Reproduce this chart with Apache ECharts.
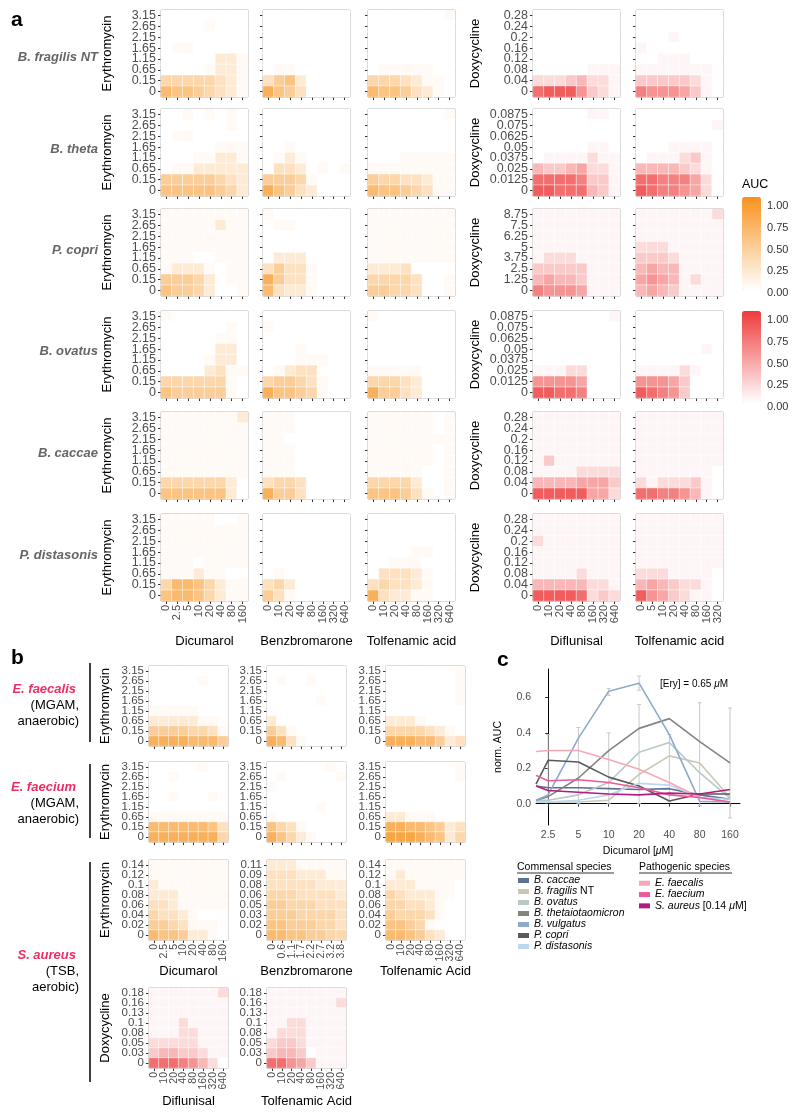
<!DOCTYPE html>
<html>
<head>
<meta charset="utf-8">
<script src="https://cdn.jsdelivr.net/npm/echarts@6/dist/echarts.min.js"></script>
<style>
  html, body { margin: 0; padding: 0; background: #fff; }
  #chart { width: 800px; height: 1118px; }
</style>
</head>
<body>
<div id="chart"></div>
<script>
var FONT = "'Liberation Sans', Arial, Helvetica, sans-serif";
var ORANGE = '#F7931E';
var RED = '#EE3B3B';
var PINK = '#EC2F63';

// ---- tick labels ----
var eryA = ['0', '0.15', '0.65', '1.15', '1.65', '2.15', '2.65', '3.15'];
var doxyWide = ['0', '0.04', '0.08', '0.12', '0.16', '0.2', '0.24', '0.28'];
var doxyLow = ['0', '0.0125', '0.025', '0.0375', '0.05', '0.0625', '0.075', '0.0875'];
var doxyHigh = ['0', '1.25', '2.5', '3.75', '5', '6.25', '7.5', '8.75'];
var dicumarolX = ['0', '2.5', '5', '10', '20', '40', '80', '160'];
var dose640 = ['0', '10', '20', '40', '80', '160', '320', '640'];
var dose320 = ['0', '5', '10', '20', '40', '80', '160', '320'];
var benzS = ['0', '0.6', '1.1', '1.7', '2.2', '2.7', '3.2', '3.8'];
var eryS1 = ['0', '0.02', '0.04', '0.06', '0.08', '0.1', '0.12', '0.14'];
var eryS2 = ['0', '0.02', '0.03', '0.05', '0.06', '0.08', '0.09', '0.11'];
var doxyS = ['0', '0.03', '0.05', '0.08', '0.1', '0.13', '0.16', '0.18'];
var colorbarTicks = [0, 0.25, 0.5, 0.75, 1];

// ---- heatmaps: one string per row, top row (highest antibiotic) first,
// each digit = AUC x 10, with 1 standing for a faint cell (~0.05) ----
// panel a, per species: Dicumarol, Benzbromarone, Tolfenamic acid (Ery) | Diflunisal, Tolfenamic acid (Doxy)
var aFragilis = [
  ['00000000', '00001000', '00000000', '01100000', '00000221', '00001221', '44444321', '76654321'],
  ['00000000', '00000000', '00000000', '00000000', '00000000', '01100000', '35620000', '86530000'],
  ['00000001', '00000000', '00000000', '00000000', '00000000', '01111100', '44432110', '76653210'],
  ['00000000', '00000000', '00000000', '00000000', '00000000', '00000111', '22234221', '89996321'],
  ['00000000', '00000000', '00010000', '10000000', '00111000', '11111110', '33333210', '76665310']
];
var aTheta = [
  ['00101010', '00000010', '01100000', '00000111', '00011221', '01122222', '55555432', '66666542'],
  ['00000000', '00000000', '00000000', '00100000', '01210000', '03320101', '55541000', '86532000'],
  ['00000001', '00000000', '00000000', '00000000', '00011111', '11111111', '54433211', '76654311'],
  ['00000110', '00000000', '00000000', '00000110', '01111211', '43345221', '88887331', '99888431'],
  ['00000000', '00000001', '00000000', '00011110', '01112310', '44443210', '88777520', '98776520']
];
var aCopri = [
  ['11111111', '11111211', '11111111', '11111111', '11100111', '12221011', '55542011', '65542001'],
  ['10000000', '01100000', '00000000', '00000000', '02220000', '35331000', '85331000', '73221000'],
  ['11111111', '11111111', '11111111', '11111111', '11111111', '22230000', '44443001', '55443001'],
  ['11111111', '11111111', '11111111', '11111111', '12221111', '33333111', '45443111', '76665111'],
  ['11111112', '11111111', '11111111', '22211111', '33321111', '45441111', '56541211', '45431111']
];
var aOvatus = [
  ['10000000', '00000010', '00000110', '00000220', '00001220', '00002311', '44444410', '65555510'],
  ['00000000', '10000000', '00000000', '00010000', '00011100', '01233000', '45543100', '86654100'],
  ['10000000', '00000000', '00000000', '00000000', '00000000', '11111000', '44432000', '85532000'],
  ['00000001', '00000000', '00000000', '00000000', '00000000', '11122000', '66665000', '99887000'],
  ['00000000', '00000000', '00000000', '00000010', '00000000', '11112100', '66653000', '98763000']
];
var aCaccae = [
  ['11111112', '11111111', '11111111', '11111111', '11111111', '11111111', '44444420', '66666620'],
  ['11100000', '11100000', '11000000', '11100000', '11100000', '11100000', '34430000', '85530000'],
  ['11111101', '11111101', '11111111', '11111101', '11111101', '11111001', '44442001', '66653101'],
  ['11111111', '11111111', '11111111', '11111111', '13111111', '11112222', '44445553', '99999552'],
  ['11111111', '11111111', '11111111', '11111111', '11111111', '11111110', '21222310', '88776410']
];
var aDistasonis = [
  ['11111001', '11111111', '11111111', '11111111', '11101111', '11121100', '47764211', '67764211'],
  ['00000000', '00000000', '00000000', '00000000', '00000000', '01000000', '34200000', '53100000'],
  ['00000000', '00000000', '00000000', '00001100', '00111000', '03332100', '34332100', '83221100'],
  ['11111111', '11111111', '21111111', '11111111', '11111111', '11112111', '44444221', '99998232'],
  ['11111111', '11111111', '11111111', '11111111', '11111111', '22211110', '45432210', '96532110']
];
// panel b
var bFaecalis = [
  ['00000000', '00000100', '00000000', '00000000', '11111000', '22222110', '55554431', '88887775'],
  ['00000000', '01001000', '00000000', '00000100', '00000000', '20000000', '53100000', '87310000'],
  ['00000001', '00000001', '00000001', '00000001', '00000000', '22210000', '44443210', '88877523']
];
var bFaecium = [
  ['00000100', '00100000', '00000000', '00100010', '00000000', '11111111', '77777763', '88888884'],
  ['00000010', '01000001', '10000000', '00000000', '00000100', '10000000', '64310000', '86421000'],
  ['00000001', '00000001', '00000000', '00000000', '00000000', '22111000', '88776523', '99987624']
];
var bAureusEry = [
  ['11111111', '11111111', '21111111', '22211111', '33211111', '43321000', '55431110', '76652210'],
  ['22211111', '33322211', '33333222', '44433332', '55444333', '55544443', '66555443', '77665544'],
  ['11111111', '12111111', '22211110', '43222110', '44332100', '54443100', '66541000', '77653200']
];
var bAureusDoxy = [
  ['11111112', '11111111', '11111111', '11121111', '11122111', '22222111', '34433211', '88876420'],
  ['11111111', '11111112', '11111111', '11221111', '12221111', '23321111', '34430111', '88653111']
];

// ---- panel c: first value is where the line meets the left axis edge ----
var cDoses = ['2.5', '5', '10', '20', '40', '80', '160'];
var cTicks = [0, 0.2, 0.4, 0.6];
var cEdgeX = -0.4;
var cCaccae = [0.10, 0.09, 0.09, 0.085, 0.08, 0.085, 0.05, 0.025];
var cFragilis = [0.01, 0.01, 0.01, 0.02, 0.165, 0.27, 0.23, 0.035];
var cOvatus = [0.02, 0.02, 0.05, 0.12, 0.29, 0.345, 0.175, 0.03];
var cTheta = [0.02, 0.04, 0.145, 0.30, 0.425, 0.48, 0.35, 0.23];
var cVulgatus = [0.02, 0.05, 0.37, 0.635, 0.68, 0.39, 0.013, 0.01];
var cCopri = [0.11, 0.245, 0.235, 0.15, 0.10, 0.015, 0.055, 0.055];
var cDistasonis = [0.01, 0.01, 0.02, 0.05, 0.115, 0.105, 0.035, 0.025];
var cFaecalis = [0.295, 0.30, 0.30, 0.25, 0.195, 0.12, 0.035, 0.01];
var cFaecium = [0.16, 0.13, 0.135, 0.12, 0.09, 0.05, 0.035, 0.01];
var cAureus = [0.10, 0.075, 0.065, 0.055, 0.05, 0.06, 0.055, 0.08];
// error bars: [dose index, low, high]
var cErrBars = [
  [0, 0.01, 0.39], [1, 0.0, 0.43], [2, 0.61, 0.65], [2, 0.0, 0.40],
  [3, 0.64, 0.72], [3, 0.0, 0.56], [4, 0.01, 0.39], [5, -0.01, 0.57], [6, -0.08, 0.54]
];

var option = {
  animation: false,
  backgroundColor: '#fff',
  textStyle: { fontFamily: FONT },
  grid: [], xAxis: [], yAxis: [], series: [], visualMap: [], legend: [], graphic: []
};
var orangeIdx = [], redIdx = [];

function cellValue(ch) {
  var d = Number(ch);
  return d === 1 ? 0.05 : d / 10;
}

function heat(left, top, w, h, rows, xCats, yCats, red, o) {
  var gi = option.grid.length;
  option.grid.push({
    left: left, top: top, width: w, height: h, show: true,
    borderColor: '#707070', borderWidth: 1, backgroundColor: 'rgba(0,0,0,0)',
    outerBoundsMode: 'none', containLabel: false
  });
  option.xAxis.push({
    type: 'category', gridIndex: gi, data: xCats,
    axisLine: { show: false },
    axisTick: { show: true, alignWithLabel: true, length: 3, lineStyle: { color: '#333' } },
    axisLabel: { show: !!o.xLab, rotate: 90, fontSize: o.xfs, color: '#4d4d4d', margin: 4, interval: 0 },
    splitLine: { show: false },
    name: o.xName || '', nameLocation: 'middle', nameGap: o.xGap || 30,
    nameTextStyle: { fontSize: 13, color: '#000' }
  });
  option.yAxis.push({
    type: 'category', gridIndex: gi, data: yCats,
    axisLine: { show: false },
    axisTick: { show: true, alignWithLabel: true, length: 3, lineStyle: { color: '#333' } },
    axisLabel: { show: !!o.yLab, fontSize: o.yfs, color: '#4d4d4d', margin: 5, interval: 0 },
    splitLine: { show: false },
    name: o.yName || '', nameLocation: 'middle', nameGap: o.yGap || 40,
    nameTextStyle: { fontSize: 13, color: '#000' }
  });
  var data = [];
  for (var r = 0; r < 8; r++) {
    for (var c = 0; c < 8; c++) {
      data.push([c, 7 - r, cellValue(rows[r][c])]);
    }
  }
  (red ? redIdx : orangeIdx).push(option.series.length);
  option.series.push({
    type: 'heatmap', xAxisIndex: gi, yAxisIndex: gi, data: data,
    itemStyle: { borderColor: '#fff', borderWidth: 0.5 },
    emphasis: { disabled: true }, silent: true
  });
}

// ---- panel a ----
var aSpecies = [aFragilis, aTheta, aCopri, aOvatus, aCaccae, aDistasonis];
var aDoxyTicks = [doxyWide, doxyLow, doxyHigh, doxyLow, doxyWide, doxyWide];
var aRowNames = ['B. fragilis NT', 'B. theta', 'P. copri', 'B. ovatus', 'B. caccae', 'P. distasonis'];
var aRowLabelY = [57, 149, 250, 351, 453, 555];
var aColX = [dicumarolX, dose640, dose640, dose640, dose320];
var aColNames = ['Dicumarol', 'Benzbromarone', 'Tolfenamic acid', 'Diflunisal', 'Tolfenamic acid'];
var aLeft = [161, 263, 368, 533, 636];
var aTop = [10, 109, 209, 311, 412, 514];

for (var r = 0; r < 6; r++) {
  for (var c = 0; c < 5; c++) {
    var red = c >= 3;
    heat(aLeft[c], aTop[r], 87, 87, aSpecies[r][c], aColX[c], red ? aDoxyTicks[r] : eryA, red, {
      xLab: r === 5, xfs: 11, xName: r === 5 ? aColNames[c] : '', xGap: 34,
      yLab: c === 0 || c === 3, yfs: 12.5,
      yName: c === 0 ? 'Erythromycin' : (c === 3 ? 'Doxycycline' : ''),
      yGap: c === 0 ? 47 : 51
    });
  }
}

// ---- panel b ----
var bLeft = [149, 267, 386];
var bRows = [
  { maps: bFaecalis, top: 666, x: [dicumarolX, dose640, dose640], y: [eryA, eryA, eryA], yName: 'Erythromycin', red: false },
  { maps: bFaecium, top: 762, x: [dicumarolX, dose640, dose640], y: [eryA, eryA, eryA], yName: 'Erythromycin', red: false },
  { maps: bAureusEry, top: 860, x: [dicumarolX, benzS, dose640], y: [eryS1, eryS2, eryS1], yName: 'Erythromycin', red: false,
    names: ['Dicumarol', 'Benzbromarone', 'Tolfenamic Acid'], gap: 25 },
  { maps: bAureusDoxy, top: 988, x: [dose640, dose640], y: [doxyS, doxyS], yName: 'Doxycycline', red: true,
    names: ['Diflunisal', 'Tolfenamic Acid'], gap: 27 }
];
bRows.forEach(function (row) {
  row.maps.forEach(function (m, c) {
    heat(bLeft[c], row.top, 79, 80, m, row.x[c], row.y[c], row.red, {
      xLab: !!row.names, xfs: 10.5, xName: row.names ? row.names[c] : '', xGap: row.gap,
      yLab: true, yfs: 11.5, yName: c === 0 ? row.yName : '', yGap: 37
    });
  });
});

// ---- colour bars ----
option.visualMap.push({
  type: 'continuous', seriesIndex: orangeIdx, dimension: 2, min: 0, max: 1.09,
  inRange: { color: ['#ffffff', ORANGE] }, left: 742, top: 197, itemWidth: 19, itemHeight: 93,
  padding: 0, calculable: false, hoverLink: false
});
option.visualMap.push({
  type: 'continuous', seriesIndex: redIdx, dimension: 2, min: 0, max: 1.09,
  inRange: { color: ['#ffffff', RED] }, left: 742, top: 311, itemWidth: 19, itemHeight: 92,
  padding: 0, calculable: false, hoverLink: false
});
[[206, 87], [320, 87]].forEach(function (b) {
  var gi = option.grid.length;
  option.grid.push({ left: 742, top: b[0], width: 19, height: b[1], outerBoundsMode: 'none' });
  option.xAxis.push({ type: 'value', gridIndex: gi, show: false });
  option.yAxis.push({
    type: 'value', gridIndex: gi, position: 'right', min: 0, max: 1,
    axisLine: { show: false }, axisTick: { show: false }, splitLine: { show: false },
    axisLabel: { customValues: colorbarTicks, fontSize: 11, color: '#333', margin: 6,
      formatter: function (v) { return v.toFixed(2); } }
  });
});

// ---- panel c ----
var ci = option.grid.length;
option.grid.push({ left: 536, top: 669, width: 204, height: 156, outerBoundsMode: 'none' });
option.xAxis.push({
  type: 'value', gridIndex: ci, min: cEdgeX, max: 6.33,
  axisLine: { show: true, lineStyle: { color: '#000', width: 1 } },
  axisTick: { show: true, length: 3, customValues: [0, 1, 2, 3, 4, 5, 6], lineStyle: { color: '#333' } },
  axisLabel: { customValues: [0, 1, 2, 3, 4, 5, 6], fontSize: 10.5, color: '#4d4d4d', margin: 5,
    formatter: function (v) { return cDoses[Math.round(v)]; } },
  splitLine: { show: false },
  name: 'Dicumarol [{i|μ}M]', nameLocation: 'middle', nameGap: 21,
  nameTextStyle: { fontSize: 10.5, color: '#000', rich: { i: { fontStyle: 'italic', fontSize: 10.5 } } }
});
option.yAxis.push({
  type: 'value', gridIndex: ci, min: -0.12, max: 0.76,
  axisLine: { show: true, lineStyle: { color: '#000', width: 1 } },
  axisTick: { show: true, length: 3, customValues: cTicks, lineStyle: { color: '#333' } },
  axisLabel: { customValues: cTicks, fontSize: 10.5, color: '#4d4d4d', margin: 5,
    formatter: function (v) { return v.toFixed(1); } },
  splitLine: { show: false },
  name: 'norm. AUC', nameLocation: 'middle', nameGap: 32,
  nameTextStyle: { fontSize: 10.5, color: '#000' }
});
option.series.push({
  type: 'custom', xAxisIndex: ci, yAxisIndex: ci, data: cErrBars, silent: true, z: 1,
  encode: { x: 0, y: [1, 2] },
  renderItem: function (params, api) {
    var lo = api.coord([api.value(0), api.value(1)]);
    var hi = api.coord([api.value(0), api.value(2)]);
    var st = { stroke: '#c8c8c8', lineWidth: 1 };
    return { type: 'group', children: [
      { type: 'line', shape: { x1: lo[0], y1: lo[1], x2: hi[0], y2: hi[1] }, style: st },
      { type: 'line', shape: { x1: lo[0] - 2, y1: lo[1], x2: lo[0] + 2, y2: lo[1] }, style: st },
      { type: 'line', shape: { x1: hi[0] - 2, y1: hi[1], x2: hi[0] + 2, y2: hi[1] }, style: st }
    ] };
  }
});
var commensal = [
  ['B. caccae', cCaccae, '#5d7190'], ['B. fragilis NT', cFragilis, '#c9c8b4'],
  ['B. ovatus', cOvatus, '#b7c9c9'], ['B. thetaiotaomicron', cTheta, '#84847f'],
  ['B. vulgatus', cVulgatus, '#8fa9cc'], ['P. copri', cCopri, '#5a5a5a'],
  ['P. distasonis', cDistasonis, '#bcd7f0']
];
var pathogenic = [
  ['E. faecalis', cFaecalis, '#f6a9b4'], ['E. faecium', cFaecium, '#eb5b9b'],
  ['S. aureus', cAureus, '#b01c7f']
];
commensal.concat(pathogenic).forEach(function (s) {
  option.series.push({
    name: s[0], type: 'line', xAxisIndex: ci, yAxisIndex: ci, z: 3,
    data: s[1].map(function (v, i) { return [i === 0 ? cEdgeX : i - 1, v]; }),
    symbol: 'none', showSymbol: false,
    lineStyle: { color: s[2], width: 1.6 }, itemStyle: { color: s[2] }
  });
});
function legendName(n) {
  if (n === 'B. fragilis NT') return 'B. fragilis {n|NT}';
  if (n === 'S. aureus') return 'S. aureus {n|[0.14 }μ{n|M]}';
  return n;
}
option.legend.push({
  data: commensal.map(function (s) { return s[0]; }), orient: 'vertical', left: 518, top: 875, padding: 0,
  itemWidth: 11, itemHeight: 5, itemGap: 0, icon: 'rect', selectedMode: false, formatter: legendName,
  textStyle: { fontSize: 10.5, fontStyle: 'italic', color: '#000', lineHeight: 9.8,
    rich: { n: { fontStyle: 'normal', fontSize: 10.5, lineHeight: 9.8 } } }
});
option.legend.push({
  data: pathogenic.map(function (s) { return s[0]; }), orient: 'vertical', left: 639, top: 877.6, padding: 0,
  itemWidth: 11, itemHeight: 5, itemGap: 0, icon: 'rect', selectedMode: false, formatter: legendName,
  textStyle: { fontSize: 10.5, fontStyle: 'italic', color: '#000', lineHeight: 11.3,
    rich: { n: { fontStyle: 'normal', fontSize: 10.5, lineHeight: 11.3 } } }
});

// ---- free text ----
function txt(x, y, s, size, opts) {
  opts = opts || {};
  option.graphic.push({
    type: 'text', x: x, y: y, silent: true,
    style: {
      text: s, fill: opts.fill || '#000', fontSize: size, fontFamily: FONT,
      fontWeight: opts.weight || 'normal', fontStyle: opts.style || 'normal',
      align: opts.align || 'left', verticalAlign: 'middle', rich: opts.rich
    }
  });
}
function vline(x, y1, y2) {
  option.graphic.push({ type: 'line', silent: true, shape: { x1: x, y1: y1, x2: x, y2: y2 },
    style: { stroke: '#000', lineWidth: 1.5 } });
}
txt(11, 20, 'a', 21, { weight: 'bold' });
txt(11, 658, 'b', 21, { weight: 'bold' });
txt(497, 660, 'c', 21, { weight: 'bold' });
aRowNames.forEach(function (n, i) {
  txt(98, aRowLabelY[i], n, 13, { weight: 'bold', style: 'italic', fill: '#666', align: 'right' });
});
txt(742, 185, 'AUC', 12.5);
[['E. faecalis', 689, '(MGAM,', 'anaerobic)', 663, 742],
 ['E. faecium', 787, '(MGAM,', 'anaerobic)', 764, 838],
 ['S. aureus', 955, '(TSB,', 'aerobic)', 862, 1082]].forEach(function (b) {
  txt(76, b[1], b[0], 13, { weight: 'bold', style: 'italic', fill: PINK, align: 'right' });
  txt(79, b[1] + 16, b[2], 13, { align: 'right' });
  txt(79, b[1] + 32, b[3], 13, { align: 'right' });
  vline(90, b[4], b[5]);
});
txt(660, 684, '[Ery] = 0.65 {i|μ}M', 10, { rich: { i: { fontStyle: 'italic', fontSize: 10 } } });
txt(517, 867, 'Commensal species', 10.5);
txt(639, 867, 'Pathogenic species', 10.5);
option.graphic.push({ type: 'line', silent: true, shape: { x1: 517, y1: 873, x2: 614, y2: 873 }, style: { stroke: '#000', lineWidth: 0.8 } });
option.graphic.push({ type: 'line', silent: true, shape: { x1: 639, y1: 873, x2: 732, y2: 873 }, style: { stroke: '#000', lineWidth: 0.8 } });

var chart = echarts.init(document.getElementById('chart'));
chart.setOption(option);
</script>
</body>
</html>
